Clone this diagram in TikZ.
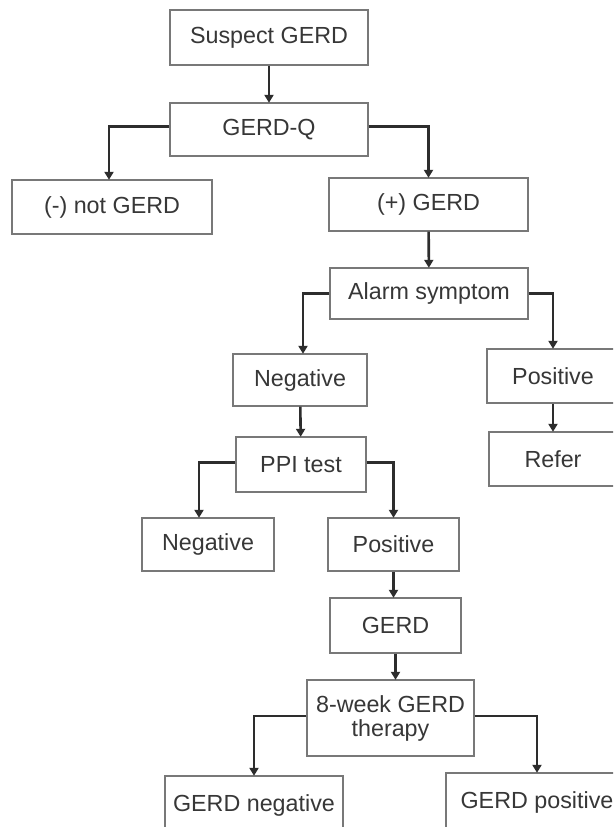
\documentclass[tikz,border=0pt]{standalone}
\usepackage{fontspec}
\setmainfont{Liberation Sans}
\usetikzlibrary{arrows.meta}
\definecolor{boxline}{RGB}{120,120,120}
\definecolor{conline}{RGB}{45,45,45}
\definecolor{txt}{RGB}{55,55,55}
\begin{document}
\begin{tikzpicture}[x=1pt,y=-1pt,
  box/.style={draw=boxline,line width=1.4pt,fill=white,inner sep=0pt,
    text=txt,font=\fontsize{23.3}{26}\selectfont,align=center},
  conn/.style={draw=conline,line width=2.6pt,
    -{Triangle[length=8pt,width=9pt]},shorten >=-0.5pt}]
\clip (0,0) rectangle (613,827);
\fill[white] (0,0) rectangle (613,827);
\node[box,minimum width=198pt,minimum height=55pt] (s) at (269,37.5) {Suspect GERD};
\node[box,minimum width=198pt,minimum height=53pt] (q) at (269,129.5) {GERD-Q};
\node[box,minimum width=200pt,minimum height=54pt] (n) at (112,207) {(-) not GERD};
\node[box,minimum width=199pt,minimum height=53pt] (p) at (428.5,204.5) {(+) GERD};
\node[box,minimum width=198pt,minimum height=51pt] (a) at (429,293.5) {Alarm symptom};
\node[box,minimum width=134pt,minimum height=52pt] (neg) at (300,380) {Negative};
\node[box,minimum width=132pt,minimum height=54pt] (pos) at (553,376) {Positive};
\node[box,minimum width=128pt,minimum height=54pt] (ref) at (553,459) {Refer};
\node[box,minimum width=130pt,minimum height=55pt] (ppi) at (301,464.5) {PPI test};
\node[box,minimum width=132pt,minimum height=53pt] (neg2) at (208,544.5) {Negative};
\node[box,minimum width=131pt,minimum height=53pt] (pos2) at (393.5,544.5) {Positive};
\node[box,minimum width=131pt,minimum height=55pt] (gerd) at (395.5,625.5) {GERD};
\node[box,minimum width=167pt,minimum height=76pt] (wk) at (390.5,718) {8-week GERD\\[-2pt]therapy};
\node[box,minimum width=178pt,minimum height=58pt] (gn) at (254,805) {GERD negative};
\node[box,minimum width=182pt,minimum height=58pt] (gp) at (537,802) {GERD positive};
\draw[conn] (s) -- (q);
\draw[conn] ([yshift=3pt]q.west) -| ([xshift=-3pt]n.north);
\draw[conn] ([yshift=3pt]q.east) -| (p.north);
\draw[conn] (p) -- (a);
\draw[conn] (a.west) -| ([xshift=3pt]neg.north);
\draw[conn] (a.east) -| (pos.north);
\draw[conn] (pos) -- (ref);
\draw[conn] (neg) -- (ppi);
\draw[conn] ([yshift=2pt]ppi.west) -| ([xshift=-9pt]neg2.north);
\draw[conn] ([yshift=2pt]ppi.east) -| (pos2.north);
\draw[conn] (pos2.south) -- (pos2.south |- gerd.north);
\draw[conn] (gerd.south) -- (gerd.south |- wk.north);
\draw[conn] ([yshift=2pt]wk.west) -| (gn.north);
\draw[conn] ([yshift=2pt]wk.east) -| (gp.north);
\end{tikzpicture}
\end{document}
